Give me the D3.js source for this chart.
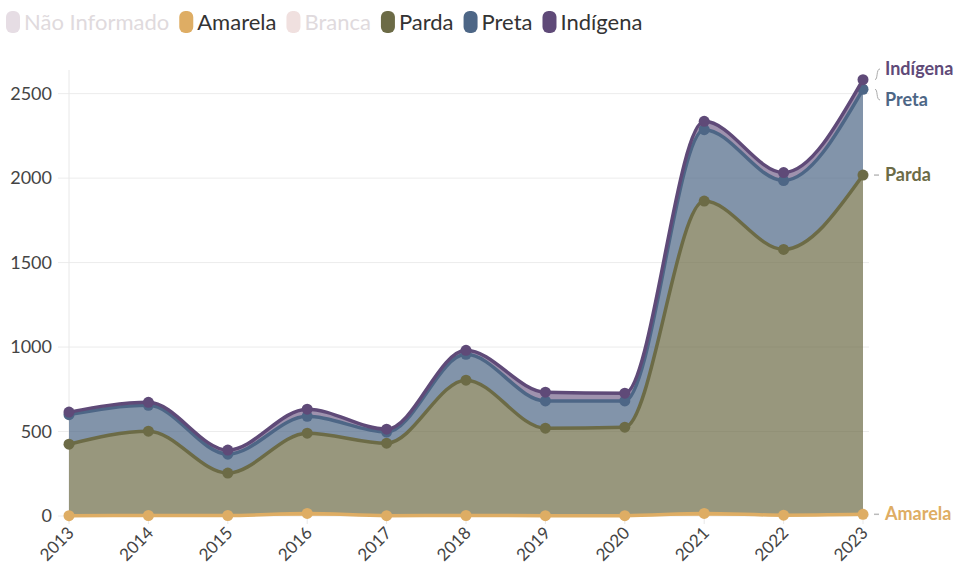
<!DOCTYPE html>
<html>
<head>
<meta charset="utf-8">
<script src="https://cdn.jsdelivr.net/npm/d3@7/dist/d3.min.js"></script>
<style>
  body { margin: 0; background: #fff; font-family: Lato, "Open Sans", sans-serif; }
  svg { display: block; }
</style>
</head>
<body>
<div id="chart"></div>
<script>
// data
var years = [2013, 2014, 2015, 2016, 2017, 2018, 2019, 2020, 2021, 2022, 2023];
var amarela = [2, 3, 3, 15, 2, 3, 2, 2, 15, 5, 10];
var parda = [423, 499, 251, 475, 429, 801, 518, 524, 1849, 1573, 2008];
var preta = [175, 153, 112, 100, 66, 153, 161, 155, 423, 408, 508];
var indigena = [15, 18, 24, 42, 17, 24, 52, 46, 49, 47, 57];
var yTicks = [0, 500, 1000, 1500, 2000, 2500];

// legend, including the hidden series
var legendItems = [
  {name: 'Não Informado', color: '#e6dde4', off: true},
  {name: 'Amarela', color: '#dead64', off: false},
  {name: 'Branca', color: '#f0e0df', off: true},
  {name: 'Parda', color: '#6c6b46', off: false},
  {name: 'Preta', color: '#4d6686', off: false},
  {name: 'Indígena', color: '#5f4a78', off: false}
];

var series = [
  {key: 'amarela', name: 'Amarela', color: '#dead64', values: amarela},
  {key: 'parda', name: 'Parda', color: '#6c6b46', values: parda},
  {key: 'preta', name: 'Preta', color: '#4d6686', values: preta},
  {key: 'indigena', name: 'Indígena', color: '#5f4a78', values: indigena}
];

var width = 971, height = 573;
var svg = d3.select('#chart').append('svg')
    .attr('width', width)
    .attr('height', height);

// legend
var lx = 6;
var legend = svg.append('g');
legendItems.forEach(function(d) {
  var g = legend.append('g').attr('transform', 'translate(' + lx + ',0)');
  g.append('rect')
    .attr('x', 0).attr('y', 11)
    .attr('width', 14).attr('height', 22)
    .attr('rx', 6)
    .attr('fill', d.color);
  var t = g.append('text')
    .attr('x', 18).attr('y', 30)
    .attr('font-size', 22)
    .attr('fill', d.off ? '#e0dadd' : '#333')
    .text(d.name);
  lx += 18 + t.node().getComputedTextLength() + 10;
});

// build table for stacking
var table = years.map(function(y, i) {
  var row = {year: y};
  series.forEach(function(s) { row[s.key] = s.values[i]; });
  return row;
});
var stacked = d3.stack().keys(series.map(function(s) { return s.key; }))(table);

var x = d3.scaleLinear().domain([2013, 2023]).range([69, 863]);
var y = d3.scaleLinear().domain([0, 2640]).range([516, 70]);

// gridlines
svg.append('g').selectAll('line')
  .data(yTicks)
  .join('line')
    .attr('x1', 58).attr('x2', 869)
    .attr('y1', function(d) { return y(d); })
    .attr('y2', function(d) { return y(d); })
    .attr('stroke', '#ececec')
    .attr('stroke-width', 1);

// vertical axis line
svg.append('line')
  .attr('x1', 69).attr('x2', 69)
  .attr('y1', y(2640)).attr('y2', 522)
  .attr('stroke', '#e8e8e8');

// y axis labels
svg.append('g').selectAll('text')
  .data(yTicks)
  .join('text')
    .attr('x', 52)
    .attr('y', function(d) { return y(d) + 6; })
    .attr('text-anchor', 'end')
    .attr('font-size', 18)
    .attr('fill', '#444')
    .text(function(d) { return d; });

// x ticks and labels
var xg = svg.append('g');
xg.selectAll('line')
  .data(years)
  .join('line')
    .attr('x1', function(d) { return x(d); })
    .attr('x2', function(d) { return x(d); })
    .attr('y1', 516).attr('y2', 524)
    .attr('stroke', '#e8e8e8');
xg.selectAll('text')
  .data(years)
  .join('text')
    .attr('text-anchor', 'end')
    .attr('font-size', 17)
    .attr('fill', '#444')
    .attr('transform', function(d) {
      return 'translate(' + (x(d) + 6) + ',534) rotate(-45)';
    })
    .text(function(d) { return d; });

var curve = d3.curveMonotoneX;
var area = d3.area()
    .x(function(d) { return x(d.data.year); })
    .y0(function(d) { return y(d[0]); })
    .y1(function(d) { return y(d[1]); })
    .curve(curve);
var line = d3.line()
    .x(function(d) { return x(d.data.year); })
    .y(function(d) { return y(d[1]); })
    .curve(curve);

// areas
svg.append('g').selectAll('path')
  .data(stacked)
  .join('path')
    .attr('d', area)
    .attr('fill', function(d, i) { return series[i].color; })
    .attr('fill-opacity', function(d, i) { return i === 3 ? 0.6 : 0.7; });

// lines and dots
stacked.forEach(function(layer, i) {
  var g = svg.append('g');
  g.append('path')
    .attr('d', line(layer))
    .attr('fill', 'none')
    .attr('stroke', series[i].color)
    .attr('stroke-width', 3.5);
  g.selectAll('circle')
    .data(layer)
    .join('circle')
      .attr('cx', function(d) { return x(d.data.year); })
      .attr('cy', function(d) { return y(d[1]); })
      .attr('r', 5.5)
      .attr('fill', series[i].color);
});

// end labels with simple collision avoidance
var last = years.length - 1;
var labels = stacked.map(function(layer, i) {
  var py = y(layer[last][1]);
  return {name: series[i].name, color: series[i].color, py: py, ly: py};
});
labels.sort(function(a, b) { return a.py - b.py; });
var gap = 31;
for (var k = 1; k < labels.length; k++) {
  var prev = labels[k - 1], cur = labels[k];
  if (cur.ly - prev.ly < gap) {
    var mid = (cur.py + prev.py) / 2;
    prev.ly = mid - gap / 2;
    cur.ly = mid + gap / 2;
  }
}

var lg = svg.append('g');
labels.forEach(function(d) {
  var moved = Math.abs(d.ly - d.py) > 2;
  if (moved) {
    lg.append('path')
      .attr('d', 'M875,' + d.py + ' C878,' + d.py + ' 876,' + d.ly + ' 880,' + d.ly)
      .attr('fill', 'none')
      .attr('stroke', '#aaa')
      .attr('stroke-width', 1);
  } else {
    lg.append('line')
      .attr('x1', 874).attr('x2', 879)
      .attr('y1', d.py).attr('y2', d.py)
      .attr('stroke', '#bbb')
      .attr('stroke-width', 1.5);
  }
  lg.append('text')
    .attr('x', 885)
    .attr('y', d.ly + 6)
    .attr('font-size', 18)
    .attr('font-weight', 'bold')
    .attr('fill', d.color)
    .text(d.name);
});
</script>
</body>
</html>
